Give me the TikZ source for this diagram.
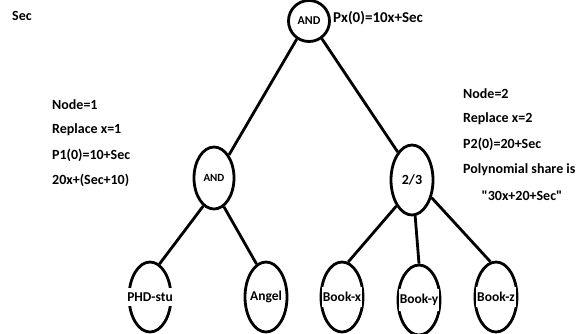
\documentclass[tikz,border=0pt]{standalone}
\usepackage{fontspec}
\setmainfont{Carlito}[Ligatures=TeXOff]
\usetikzlibrary{shapes.geometric}
\begin{document}
\begin{tikzpicture}[x=1pt,y=-1pt,
  gate/.style={ellipse,draw,line width=2.8pt,inner sep=0pt},
  leaf/.style={ellipse,draw,line width=2.8pt,minimum width=42pt,minimum height=70pt,inner sep=0pt},
  leaftext/.style={fill=white,inner xsep=1pt,inner ysep=5pt,font=\bfseries\fontsize{13.5}{16}\selectfont},
  note/.style={anchor=west,inner sep=0pt,font=\bfseries\fontsize{14}{16}\selectfont},
  edge/.style={line width=2.8pt}]
\useasboundingbox[fill=white] (0,0) rectangle (581,333);
% gates
\node[gate,minimum width=41pt,minimum height=41pt,font=\bfseries\fontsize{12}{14}\selectfont] (root) at (309,21) {AND};
\node[gate,minimum width=40pt,minimum height=62pt,font=\bfseries\fontsize{11}{13}\selectfont] (and1) at (214,178) {AND};
\node[gate,minimum width=42pt,minimum height=70pt,font=\bfseries\fontsize{14}{16}\selectfont] (th) at (412,180) {2/3};
% leaves
\node[leaf] (phd) at (150,297) {};
\node[leaf] (angel) at (266,297) {};
\node[leaf] (bx) at (342,297) {};
\node[leaf] (by) at (419,300) {};
\node[leaf] (bz) at (496,297) {};
\node[leaftext] (phdt) at (phd) {PHD-stu};
\node[leaftext] (angelt) at (angel) {Angel};
\node[leaftext] (bxt) at (bx) {Book-x};
\node[leaftext] (byt) at (by) {Book-y};
\node[leaftext] (bzt) at (bz) {Book-z};
% edges
\draw[edge] (root.236) -- (and1.57);
\draw[edge] (root.306) -- (th.117);
\draw[edge] (and1.249) -- (phd.74);
\draw[edge] (and1.289) -- (angel.106);
\draw[edge] (th.239) -- (bx.80);
\draw[edge] (th.275) -- (by.90);
\draw[edge] (th.318) -- (bz.99);
% notes
\node[note] (sec) at (12,16) {Sec};
\node[note,font=\bfseries\fontsize{15}{17}\selectfont] (px) at (333,18) {Px(0)=10x+Sec};
\node[note] (n1a) at (52,105) {Node=1};
\node[note] (n1b) at (52,130) {Replace x=1};
\node[note] (n1c) at (52,155) {P1(0)=10+Sec};
\node[note] (n1d) at (52,180) {20x+(Sec+10)};
\node[note] (n2a) at (463,94) {Node=2};
\node[note] (n2b) at (463,119) {Replace x=2};
\node[note] (n2c) at (463,144) {P2(0)=20+Sec};
\node[note] (n2d) at (463,170) {Polynomial share is};
\node[note,anchor=center] (n2e) at (522,196) {"30x+20+Sec"};
\end{tikzpicture}
\end{document}
